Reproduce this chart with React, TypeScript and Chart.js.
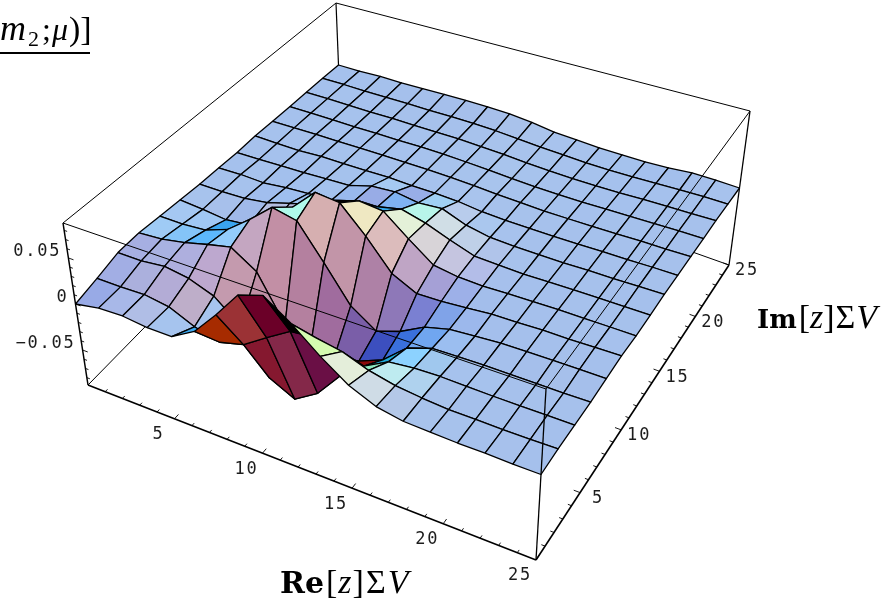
import { useEffect, useRef } from "react";
import { Chart, registerables } from "chart.js";

Chart.register(...registerables);

// Surface heights in units of 10^-3, one row per Im grid line, one column per Re grid line.
const im00 = [0, 5, 6, 3, 3, 18, 45, 75, 84, 64, 40, 20, 8, 3, 2, 1, 1, 0, 0];
const im01 = [6, 6, 7, 3, -9, -16, -9, 8, 24, 27, 22, 12, 6, 3, 1, 1, 0.5, 0.5, 1];
const im02 = [13, 13, 16, 12, 2, -21, -67, -80, -64, -36, -16, -2, 1, 2, 1.5, 1, 1, 1, 1];
const im03 = [14, 16, 21, 28, 34, 16, -32, -47, -47, -43, -32, -10, -1, 0, 0.5, 0.5, 0.5, 0.5, 1];
const im04 = [12, 12, 14, 24, 44, 66, 60, 23, -15, -33, -24, -10, -3, -1, 1, 1.5, 2, 2, 2];
const im05 = [10, 8, 5, 8, 16, 46, 71, 68, 40, 8, -5, -4, -2, 0.5, 1, 2, 2, 2.5, 3];
const im06 = [8, 8, 9, 13, 21, 29, 40, 50, 47, 25, 5, 1, 0, 1, 1.5, 2, 2, 2, 2];
const im07 = [7, 8, 7, 10, 12, 13, 21, 23, 29, 22, 12, 3, 2, 1, 1.5, 2, 2, 2, 2];
const im08 = [5.5, 6, 7, 7.5, 9, 10, 18, 20, 16, 18, 8, 3, 2, 1.5, 1.5, 2, 2, 2.5, 3];
const im09 = [6, 5.5, 5.5, 7, 7, 7.5, 8, 7, 7, 6, 3, 2, 1.5, 1.5, 1.5, 2, 2, 2.5, 2.5];
const im10 = [4.5, 5, 5.5, 5.5, 6, 6, 6, 6, 5.5, 4.5, 3, 2, 1, 1, 1, 1.5, 2, 2, 2.5];
const im11 = [3.5, 4, 4, 4, 4.5, 4.5, 5, 5, 4, 3, 1.5, 0.5, 0, 0, 0.5, 1, 1.5, 2, 2];
const im12 = [2.5, 3, 3, 3, 3.5, 3.5, 3.5, 4, 3, 2, 0.5, -0.5, -1, -1, -0.5, 0.5, 1, 1.5, 2];
const im13 = [1.5, 2, 2, 2.5, 3, 3, 3.5, 3.5, 3, 1.5, 0, -1, -2, -2, -1.5, -0.5, 0.5, 1, 1];
const im14 = [0, 0.5, 2, 2.2, 3.2, 4.2, 5, 5.3, 4.8, 2.5, -1, -2.1, -3.2, -3.3, -3.2, -1.7, 0.6, 0.8, 0];
const heights = [im00, im01, im02, im03, im04, im05, im06, im07, im08, im09, im10, im11, im12, im13, im14];

const zMin = -88;
const zMax = 88;
const axisMax = 25;

const reTicks = [5, 10, 15, 20, 25];
const imTicks = [5, 10, 15, 20, 25];
const zTicks = [
  { value: -50, label: "\u22120.05" },
  { value: 0, label: "0" },
  { value: 50, label: "0.05" },
];

const facetColors: Record<string, string> = {
  "0,0": "#98AAE6", "1,0": "#A8B8E8", "2,0": "#B0BEE6", "3,0": "#A6C4EE", "4,0": "#3BA8F0",
  "5,0": "#A62B00", "6,0": "#9B3235", "7,0": "#6B0028", "8,0": "#000000",
  "9,0": "#D4FBB0", "10,0": "#E4EEDA", "11,0": "#CFDCE6", "12,0": "#B4C8E8",
  "0,1": "#A2AEE4", "1,1": "#ABB0DD", "2,1": "#B3ACD6", "3,1": "#BEAEC9", "4,1": "#A6C4EE",
  "5,1": "#85182F", "6,1": "#85182F", "7,1": "#842849", "8,1": "#6A0F45",
  "9,1": "#8B0A0A", "10,1": "#8CE6BE", "11,1": "#BEEBF0", "12,1": "#AFD2EE",
  "0,2": "#A6AFE2", "1,2": "#A8B2E2", "2,2": "#AEAFDE", "3,2": "#BDA8CF", "4,2": "#C49AAE",
  "5,2": "#C08FA5", "8,2": "#8B0A0A", "9,2": "#8B0A0A", "10,2": "#1FA8D8", "11,2": "#8CD2FF", "12,2": "#A0C8EE",
  "0,3": "#9FCBF5", "1,3": "#84C4F8", "2,3": "#5CB8FC", "3,3": "#93CCFB", "4,3": "#C4A6C1",
  "5,3": "#C28FA5", "6,3": "#B4809F", "7,3": "#A06C9E", "8,3": "#7A5EA8", "9,3": "#3C4FBF",
  "10,3": "#3A70DC", "11,3": "#70A6F0", "12,3": "#9BBEF0",
  "0,4": "#A5C8F2", "1,4": "#A0C8F4", "2,4": "#3AA5EF", "5,4": "#AFF9EA", "6,4": "#D6AFB0",
  "7,4": "#C295A8", "8,4": "#AE81A6", "9,4": "#8E78B8", "10,4": "#7A80D2", "11,4": "#80A3E8", "12,4": "#9CB8EC",
  "6,5": "#5A9EE0", "7,5": "#EFE8C2", "8,5": "#DCBCBC", "9,5": "#BFA5C5", "10,5": "#A5A0D6", "11,5": "#9DB0E8",
  "3,5": "#B4BEE0", "4,5": "#B9B8DC", "5,5": "#B0B6E2", "6,6": "#A8B4E2",
  "7,6": "#33AAEE", "8,6": "#E4F1D8", "9,6": "#D8D4D8", "10,6": "#C5C5E0", "11,6": "#B3BDE8",
  "7,7": "#7FB2F2", "8,7": "#B8F5EA", "9,7": "#D0DEE6", "10,7": "#BFD0E8", "11,7": "#B0C4EA",
  "6,7": "#98ACE6", "8,8": "#A0D0F5", "7,8": "#98AEE8", "9,8": "#B8CCEC",
};

type P = [number, number];
// Perspective box: corners as seen on the page, bottom and top faces.
const bottomFace: P[] = [[88, 385], [536, 560], [729, 265], [341, 127]];
const topFace: P[] = [[63, 223], [546, 389], [750, 111], [336, 3]];

function makeHomography(q: P[]) {
  const [p0, p1, p2, p3] = q;
  const dx1 = p1[0] - p2[0], dy1 = p1[1] - p2[1];
  const dx2 = p3[0] - p2[0], dy2 = p3[1] - p2[1];
  const sx = p0[0] - p1[0] + p2[0] - p3[0], sy = p0[1] - p1[1] + p2[1] - p3[1];
  const det = dx1 * dy2 - dy1 * dx2;
  const g = (sx * dy2 - sy * dx2) / det;
  const h = (dx1 * sy - dy1 * sx) / det;
  const a = p1[0] - p0[0] + g * p1[0], b = p3[0] - p0[0] + h * p3[0];
  const d = p1[1] - p0[1] + g * p1[1], e = p3[1] - p0[1] + h * p3[1];
  return (u: number, v: number): P => {
    const w = g * u + h * v + 1;
    return [(a * u + b * v + p0[0]) / w, (d * u + e * v + p0[1]) / w];
  };
}
const H0 = makeHomography(bottomFace);
const H1 = makeHomography(topFace);

function project(u: number, v: number, z: number): P {
  const t = (z - zMin) / (zMax - zMin);
  const a = H0(u, v), b = H1(u, v);
  return [a[0] + (b[0] - a[0]) * t, a[1] + (b[1] - a[1]) * t];
}

const slopeRe = 0.0085;
const slopeIm = 0.006;

function shade(k: number, m: number, under: boolean): string {
  const picked = facetColors[`${k},${m}`];
  if (picked) return picked;
  const z = heights;
  const dk = ((z[m][k + 1] - z[m][k] + z[m + 1][k + 1] - z[m + 1][k]) / 2) * slopeRe;
  const dm = ((z[m + 1][k] - z[m][k] + z[m + 1][k + 1] - z[m][k + 1]) / 2) * slopeIm;
  let nx = -dk, ny = -dm, nz = 1;
  const len = Math.hypot(nx, ny, nz);
  nx /= len; ny /= len; nz /= len;
  if (under) { nx = -nx; ny = -ny; nz = -nz; }
  const vx = nx + 0.42 * ny;
  const vy = 0.92 * ny + 0.39 * nz;
  const vz = Math.abs(-0.39 * ny + 0.92 * nz);
  const ch = (c: number) => Math.round(255 * Math.min(1, Math.max(0, c)));
  return `rgb(${ch((vx + vz) / Math.SQRT2)},${ch((vx + vy + vz) / Math.sqrt(3))},${ch((vy + vz) / Math.SQRT2)})`;
}

function buildDatasets() {
  const out: any[] = [];
  const seq = () => -out.length;
  const line = (pts: P[], width: number) =>
    out.push({
      data: pts.map(([x, y]) => ({ x, y })),
      showLine: true,
      borderColor: "#000",
      borderWidth: width,
      pointRadius: 0,
      fill: false,
      clip: false,
      order: seq(),
    });
  const box = (u: number, v: number, t: number) => project(u, v, zMin + (zMax - zMin) * t);

  // back of the box
  line([box(0, 0, 1), box(0, 1, 1)], 1);
  line([box(0, 1, 1), box(1, 1, 1)], 1);
  line([box(0, 1, 1), box(0, 1, 0)], 1.2);
  line([box(1, 1, 1), box(1, 1, 0)], 1.3);
  line([box(0, 0, 0), box(0, 1, 0)], 1);
  line([box(0, 1, 0), box(1, 1, 0)], 1);

  // surface, back to front
  const nk = heights[0].length, nm = heights.length;
  for (let m = nm - 2; m >= 0; m--) {
    for (let k = 0; k < nk - 1; k++) {
      const corner = (kk: number, mm: number) => project(kk / (nk - 1), mm / (nm - 1), heights[mm][kk]);
      const q = [corner(k, m), corner(k + 1, m), corner(k + 1, m + 1), corner(k, m + 1)];
      let area = 0;
      for (let i = 0; i < 4; i++) {
        const a = q[i], b = q[(i + 1) % 4];
        area += a[0] * b[1] - b[0] * a[1];
      }
      out.push({
        data: [...q, q[0]].map(([x, y]) => ({ x, y })),
        showLine: true,
        borderColor: "#000",
        borderWidth: 1.3,
        borderJoinStyle: "round",
        backgroundColor: shade(k, m, area > 0),
        fill: "shape",
        pointRadius: 0,
        clip: false,
        order: seq(),
      });
    }
  }

  // front of the box
  line([box(0, 0, 1), box(1, 0, 1)], 1);
  line([box(1, 0, 1), box(1, 1, 1)], 1);
  line([box(1, 0, 1), box(1, 0, 0)], 1.3);
  line([box(0, 0, 0), box(0, 0, 1)], 1.5);
  line([box(0, 0, 0), box(1, 0, 0)], 1.6);
  line([box(1, 0, 0), box(1, 1, 0)], 1.6);

  // ticks
  for (let i = 1; i <= axisMax; i++) {
    const len = i % 5 === 0 ? 0.014 : 0.008;
    const u = i / axisMax;
    line([box(u, 0, 0), box(u, len, 0)], 0.9);
    line([box(1, u, 0), box(1 - len, u, 0)], 0.9);
  }
  for (let v = -80; v <= 80; v += 10) {
    const len = v % 50 === 0 ? 0.012 : 0.007;
    line([project(0, 0, v), project(len, 0, v)], 0.9);
  }
  return out;
}

type Run = { text: string; font: string; dy?: number; gap?: number };
const serif = '"Liberation Serif", serif';
const boldSerif = '"DejaVu Serif", serif';
const mathLabel = (first: string, boldSize: number, gap: number): Run[] => [
  { text: first, font: `bold ${boldSize}px ${boldSerif}`, gap: 2 },
  { text: "[", font: `34px ${serif}`, gap },
  { text: "z", font: `italic 34px ${serif}`, gap },
  { text: "]", font: `34px ${serif}`, gap: gap + 1 },
  { text: "\u03A3", font: `34px ${serif}`, gap: gap + 1 },
  { text: "V", font: `italic 34px ${serif}` },
];
const titleRuns: Run[] = [
  { text: "m", font: `italic 36px ${serif}`, gap: 2 },
  { text: "2", font: `22px ${serif}`, dy: 6, gap: 3 },
  { text: ";", font: `32px ${serif}`, gap: 1 },
  { text: "\u03BC", font: `italic 32px ${serif}`, gap: 1 },
  { text: ")", font: `34px ${serif}` },
  { text: "]", font: `34px ${serif}` },
];

const textPlugin = {
  id: "textPlugin",
  afterDraw(chart: any) {
    const ctx = chart.ctx as CanvasRenderingContext2D;
    const sx = chart.scales.x, sy = chart.scales.y;
    ctx.save();
    ctx.fillStyle = "#1c1c1c";
    ctx.font = '17px "DejaVu Sans Mono", monospace';
    (ctx as any).letterSpacing = "1.8px";
    ctx.textBaseline = "middle";
    ctx.textAlign = "center";
    for (const t of reTicks) {
      const [x, y] = project(t / axisMax, 0, zMin);
      ctx.fillText(String(t), sx.getPixelForValue(x) - 16, sy.getPixelForValue(y) + 16);
    }
    for (const t of imTicks) {
      const [x, y] = project(1, t / axisMax, zMin);
      ctx.fillText(String(t), sx.getPixelForValue(x) + 18, sy.getPixelForValue(y) + 6);
    }
    ctx.textAlign = "right";
    for (const t of zTicks) {
      const [x, y] = project(0, 0, t.value);
      ctx.fillText(t.label, sx.getPixelForValue(x) - 7, sy.getPixelForValue(y) - 6);
    }
    (ctx as any).letterSpacing = "0px";
    ctx.fillStyle = "#000";
    ctx.textAlign = "left";
    ctx.textBaseline = "alphabetic";
    const drawRuns = (runs: Run[], x0: number, y0: number) => {
      let x = x0;
      for (const r of runs) {
        ctx.font = r.font;
        ctx.fillText(r.text, x, y0 + (r.dy ?? 0));
        x += ctx.measureText(r.text).width + (r.gap ?? 0);
      }
      return x;
    };
    drawRuns(mathLabel("Re", 30, 1), 280, 593);
    drawRuns(mathLabel("Im", 26, 0), 757, 328);
    drawRuns(titleRuns, 0, 40);
    ctx.fillRect(0, 52, 90, 2);
    ctx.restore();
  },
};

export default function App() {
  const ref = useRef<HTMLCanvasElement>(null);
  useEffect(() => {
    if (!ref.current) return;
    const chart = new Chart(ref.current, {
      type: "scatter",
      data: { datasets: buildDatasets() },
      options: {
        responsive: false,
        animation: false,
        devicePixelRatio: 1,
        layout: { padding: 0 },
        events: [],
        scales: {
          x: { type: "linear", min: 0, max: 887, display: false },
          y: { type: "linear", min: 0, max: 609, reverse: true, display: false },
        },
        plugins: { legend: { display: false }, tooltip: { enabled: false }, title: { display: false } },
      },
      plugins: [textPlugin],
    } as any);
    return () => chart.destroy();
  }, []);
  return (
    <div style={{ position: "absolute", left: 0, top: 0, width: 887, height: 609, background: "#fff" }}>
      <canvas ref={ref} width={887} height={609} style={{ display: "block" }} />
    </div>
  );
}
